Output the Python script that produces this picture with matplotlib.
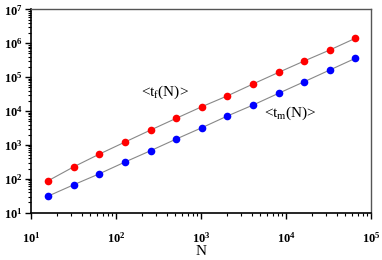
import numpy as np
import matplotlib
matplotlib.use("Agg")
import matplotlib.pyplot as plt
from matplotlib.ticker import LogLocator, FuncFormatter, NullFormatter

plt.rcParams['font.family'] = 'Liberation Serif'
plt.rcParams['mathtext.fontset'] = 'custom'
plt.rcParams['mathtext.rm'] = 'Liberation Serif'
plt.rcParams['mathtext.it'] = 'Liberation Serif'
plt.rcParams['mathtext.bf'] = 'Liberation Serif:bold'

# system sizes
N = [16, 32, 64, 128, 256, 512, 1024, 2048, 4096, 8192, 16384, 32768, 65536]
# mean times
t_f = [88, 227, 537, 1217, 2750, 6100, 13400, 28000, 62700, 138000, 299000, 631000, 1400000]
t_m = [31, 67, 141, 313, 676, 1490, 3210, 7130, 15000, 33300, 73100, 162000, 359000]

fig = plt.figure(figsize=(3.82, 2.6), dpi=100)
ax = fig.add_axes([0.081, 0.182, 0.890, 0.782])

ax.plot(N, t_f, color='#888888', lw=0.8, zorder=1)
ax.plot(N, t_m, color='#888888', lw=0.8, zorder=1)
ax.plot(N, t_f, 'o', color='#ff0000', ms=5.5, mec='none', zorder=2)
ax.plot(N, t_m, 'o', color='#0000ff', ms=5.5, mec='none', zorder=2)

ax.set_xscale('log')
ax.set_yscale('log')
ax.set_xlim(10, 1e5)
ax.set_ylim(10, 1e7)

fmt = FuncFormatter(lambda v, p: r'$\mathbf{10^{%d}}$' % round(np.log10(v)))
for a in (ax.xaxis, ax.yaxis):
    a.set_major_locator(LogLocator(base=10, numticks=10))
    a.set_minor_locator(LogLocator(base=10, subs=np.arange(2, 10), numticks=10))
    a.set_major_formatter(fmt)
    a.set_minor_formatter(NullFormatter())

ax.tick_params(which='major', direction='out', length=4, width=1, labelsize=9)
ax.tick_params(which='minor', direction='out', length=2, width=0.8)
ax.tick_params(axis='x', which='major', pad=9)
ax.tick_params(axis='y', which='major', pad=2)

for s in ('left', 'bottom'):
    ax.spines[s].set_linewidth(1.2)
    ax.spines[s].set_color('black')
for s in ('top', 'right'):
    ax.spines[s].set_linewidth(1.0)
    ax.spines[s].set_color('#555555')

ax.text(0.325, 0.575, r'<t$_\mathrm{f}$(N)>', transform=ax.transAxes, fontsize=11)
ax.text(0.685, 0.47, r'<t$_\mathrm{m}$(N)>', transform=ax.transAxes, fontsize=11)

ax.set_xlabel('N', fontsize=11, labelpad=0)

fig.savefig('out.png', dpi=100)
